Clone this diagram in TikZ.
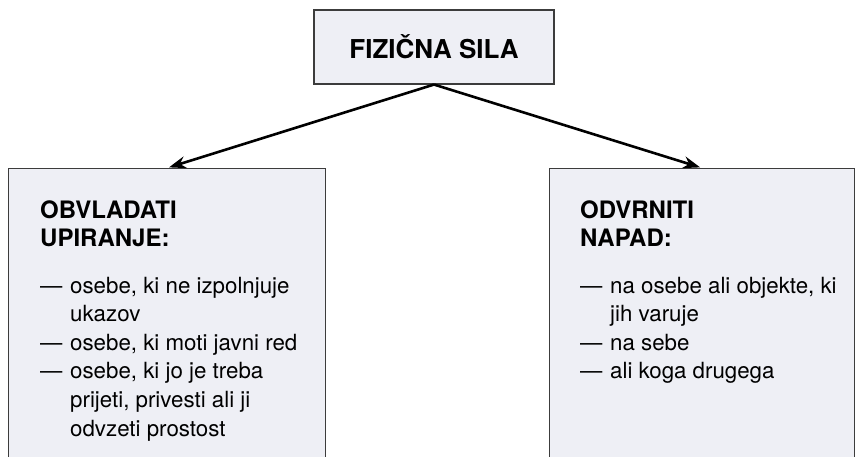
\documentclass[tikz,border=0pt]{standalone}
\usepackage{fontspec}
\setmainfont{TeX Gyre Heros}
\usetikzlibrary{positioning,arrows.meta}
\definecolor{boxfill}{RGB}{238,239,245}
\definecolor{boxline}{RGB}{60,60,60}
\newcommand{\itemdash}{\makebox[30pt][l]{—}}
\newcommand{\itemgap}{\hspace*{30pt}}

\begin{document}
\begin{tikzpicture}[x=1pt,y=-1pt,
  box/.style={draw=boxline,fill=boxfill,line width=1.1pt,rectangle,inner sep=0pt},
  head/.style={font=\fontsize{24}{28}\selectfont\bfseries,align=left,inner sep=0pt},
  items/.style={font=\fontsize{22.3}{28.6}\selectfont,align=left,inner sep=0pt},
  arr/.style={-{Stealth[length=17pt,width=12pt]},line width=2.6pt,shorten >=2pt}
]
\useasboundingbox (0,0) rectangle (855,457);
\clip (0,0) rectangle (855,457);

% the top box
\node[box,minimum width=240pt,minimum height=74pt,
  font=\fontsize{26}{28}\selectfont\bfseries] (sila) at (434,47) {FIZIČNA SILA};

% the left box (base = last line)
\node[box,anchor=north west,minimum width=317pt,minimum height=320pt] (upiranje) at (8,168) {};
\node[head,anchor=base west] (upiranjeHead) at (40,246.5) {OBVLADATI\\UPIRANJE:};
\node[items,anchor=base west] (upiranjeList) at (40,436) {%
  \itemdash osebe, ki ne izpolnjuje\\
  \itemgap ukazov\\
  \itemdash osebe, ki moti javni red\\
  \itemdash osebe, ki jo je treba\\
  \itemgap prijeti, privesti ali ji\\
  \itemgap odvzeti prostost};

% the right box
\node[box,anchor=north west,minimum width=305pt,minimum height=320pt] (napad) at (549,168) {};
\node[head,anchor=base west] (napadHead) at (580,246.5) {ODVRNITI\\NAPAD:};
\node[items,anchor=base west] (napadList) at (580,378.8) {%
  \itemdash na osebe ali objekte, ki\\
  \itemgap jih varuje\\
  \itemdash na sebe\\
  \itemdash ali koga drugega};

% the arrows
\draw[arr] (sila.south) -- (upiranje.north);
\draw[arr] (sila.south) -- (napad.north);
\end{tikzpicture}
\end{document}
